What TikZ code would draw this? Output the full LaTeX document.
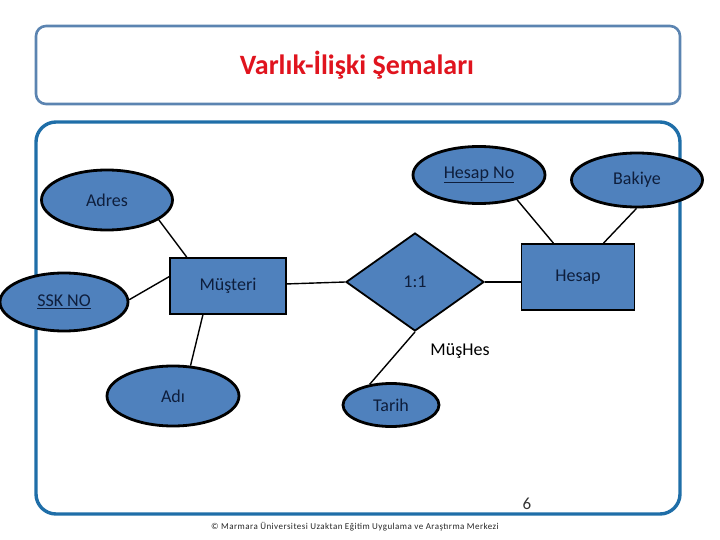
\documentclass[tikz,border=0pt]{standalone}
\usepackage{fontspec}
\setmainfont{Carlito}
\usepackage{tikz}
\usetikzlibrary{shapes.geometric}
\definecolor{erfill}{HTML}{4F81BD}
\definecolor{erink}{HTML}{0E1E3C}
\definecolor{titlered}{HTML}{E0141E}
\definecolor{frameblue}{HTML}{5B84B1}
\definecolor{panelblue}{HTML}{1F6EA8}
\tikzset{
  erfont/.style={font=\fontsize{18}{21}\selectfont, text=erink},
  entity/.style={rectangle, draw=black, fill=erfill, line width=1.8pt, erfont},
  attr/.style={ellipse, draw=black, fill=erfill, line width=2.8pt, inner sep=0pt, erfont},
  relship/.style={diamond, draw=black, fill=erfill, line width=1.8pt, inner sep=0pt, erfont},
  link/.style={draw=black, line width=1.4pt},
  titleframe/.style={rounded corners=10pt, draw=frameblue, line width=2.6pt},
  bodyframe/.style={rounded corners=20pt, draw=panelblue, line width=3.4pt}
}

\begin{document}
\begin{tikzpicture}[x=1pt, y=-1pt]
\useasboundingbox (0,0) rectangle (720,540);
\draw[titleframe] (36,26) rectangle (680,104);
\node[font=\fontsize{28}{32}\selectfont\bfseries, text=titlered] (title) at (357,65) {Varlık-İlişki Şemaları};
\draw[bodyframe] (36,122) rectangle (680,514);

\node[attr, minimum width=131, minimum height=60] (adres) at (107,200) {Adres};
\node[attr, minimum width=128, minimum height=58] (sskno) at (64,302) {\underline{SSK NO}};
\node[entity, minimum width=116, minimum height=56] (musteri) at (228,286) {Müşteri};
\node[relship, minimum width=138, minimum height=98] (iliski) at (415,282) {1:1};
\node[entity, minimum width=113, minimum height=66] (hesap) at (578,277) {Hesap};
\node[attr, minimum width=132, minimum height=57] (hesapno) at (479,175) {\underline{Hesap No}};
\node[attr, minimum width=131, minimum height=54] (bakiye) at (637,180) {Bakiye};
\node[attr, minimum width=132, minimum height=60] (adi) at (173,396) {Adı};
\node[attr, minimum width=96, minimum height=43] (tarih) at (391,405) {Tarih};
\node[erfont, text=black] (iliskiad) at (460,351) {MüşHes};

\draw[link] (adres.-21) -- (musteri.145);
\draw[link] (sskno.2) -- (musteri.171);
\draw[link] (musteri.2) -- (iliski.180);
\draw[link] (musteri.-131) -- (adi.60);
\draw[link] (iliski.east) -- (hesap.west |- iliski.east);
\draw[link] (hesapno.-33) -- (hesap.126);
\draw[link] (bakiye.-91) -- (hesap.53);
\draw[link] (iliski.south) -- (tarih.136);

\node[font=\fontsize{17}{19}\selectfont, text=black!80] (sayfa) at (527,504) {6};
\node[font=\fontsize{9}{11}\selectfont\addfontfeature{LetterSpace=5}, text=black!85] (altbilgi) at (355,527) {© Marmara Üniversitesi Uzaktan Eğitim Uygulama ve Araştırma Merkezi};
\end{tikzpicture}
\end{document}
